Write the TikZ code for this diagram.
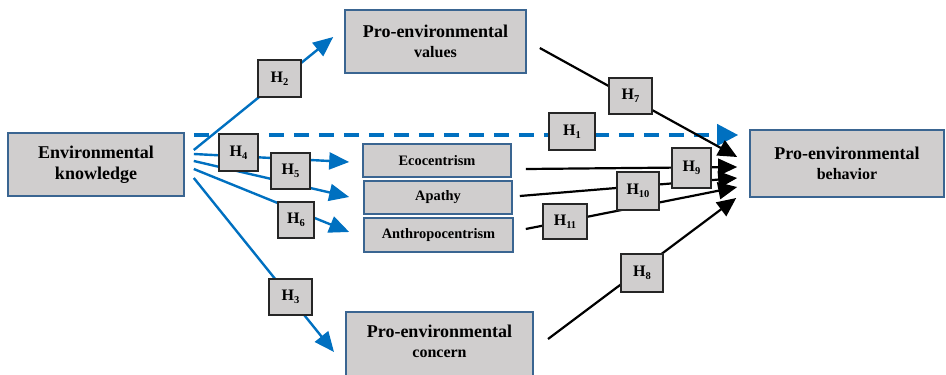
\documentclass[tikz,border=0pt]{standalone}
\usepackage{fontspec}
\setmainfont{Liberation Serif}
\usetikzlibrary{arrows.meta,calc}
\definecolor{lineblue}{HTML}{0070C0}
\definecolor{boxedge}{HTML}{3A6591}
\definecolor{boxfill}{HTML}{D0CECE}
\newcommand\hyp[1]{H\raisebox{-0.35ex}{\fontsize{10.5}{10.5}\selectfont #1}}
\newcommand\secline{\fontsize{16}{20}\selectfont}
\begin{document}
\begin{tikzpicture}[x=1pt,y=-1pt,
  mainbox/.style={draw=boxedge,fill=boxfill,line width=1.6pt,inner sep=0pt,align=center,
    font=\bfseries\fontsize{18}{21}\selectfont},
  midbox/.style={mainbox,font=\bfseries\fontsize{14.4}{16}\selectfont},
  hbox/.style={draw=black!85,fill=boxfill,line width=1.3pt,inner sep=0pt,
    font=\bfseries\fontsize{16}{16}\selectfont},
  bluearrow/.style={draw=lineblue,line width=2.4pt,-{Triangle[length=20pt,width=17pt]}},
  dasharrow/.style={draw=lineblue,line width=4pt,dash pattern=on 15pt off 10pt,
    -{Triangle[length=21pt,width=21pt]}},
  blackarrow/.style={draw=black,line width=2.2pt,-{Triangle[length=19pt,width=17pt]}},
]
\useasboundingbox (0,0) rectangle (946,375);

% main boxes
\node[mainbox,minimum width=176pt,minimum height=63pt] (ek) at (96,164.5) {Environmental\\knowledge};
\node[mainbox,minimum width=181pt,minimum height=63pt] (pev) at (435.5,41.5) {Pro-environmental\\[-1pt]{\secline values}};
\node[midbox,minimum width=148pt,minimum height=33pt] (eco) at (437,160.5) {Ecocentrism};
\node[midbox,minimum width=148pt,minimum height=33pt] (apa) at (438,197.5) {Apathy};
\node[midbox,minimum width=149pt,minimum height=34pt] (ant) at (438.5,235) {Anthropocentrism};
\node[mainbox,minimum width=194pt,minimum height=67pt] (peb) at (847,163.5) {Pro-environmental\\[-1pt]{\secline behavior}};
\path[draw=boxedge,fill=boxfill,line width=1.6pt] (346,312) rectangle (533,400);
\node[align=center,inner sep=0pt,font=\bfseries\fontsize{18}{21}\selectfont] (pec) at (439.5,341) {Pro-environmental\\[-1pt]{\secline concern}};

% coordinates
\coordinate (s1) at ($(ek.east)+(9,-29.5)$);
\coordinate (s2) at ($(ek.east)+(9,-14.5)$);
\coordinate (s4) at ($(ek.east)+(9,-10.5)$);
\coordinate (s5) at ($(ek.east)+(9,-3.5)$);
\coordinate (s6) at ($(ek.east)+(9,4.5)$);
\coordinate (s3) at ($(ek.east)+(9,13.5)$);
\coordinate (t1) at ($(peb.west)+(-11,-28.5)$);
\coordinate (t2) at ($(pev.west)+(-11,-4.5)$);
\coordinate (t4) at ($(eco.west)+(-13,1.5)$);
\coordinate (t5) at ($(apa.west)+(-14,-0.5)$);
\coordinate (t6) at ($(ant.west)+(-14,-3)$);
\coordinate (t3) at ($(pec.center)+(-105.5,11)$);
\coordinate (s7) at ($(pev.east)+(13,6.5)$);
\coordinate (s9) at ($(eco.east)+(14,8.5)$);
\coordinate (s10) at ($(apa.east)+(7,-1.5)$);
\coordinate (s11) at ($(ant.east)+(12,-6)$);
\coordinate (s8) at ($(pec.center)+(108.5,-2)$);
\coordinate (t7) at ($(peb.west)+(-12,-6.5)$);
\coordinate (t9) at ($(peb.west)+(-12,3.5)$);
\coordinate (t10) at ($(peb.west)+(-12,14.5)$);
\coordinate (t11) at ($(peb.west)+(-12,23.5)$);
\coordinate (t8) at ($(peb.west)+(-13,34.5)$);

% connectors
\draw[dasharrow] (s1) -- (t1);
\draw[bluearrow] (s2) -- (t2);
\draw[bluearrow] (s4) -- (t4);
\draw[bluearrow] (s5) -- (t5);
\draw[bluearrow] (s6) -- (t6);
\draw[bluearrow] (s3) -- (t3);
\draw[blackarrow] (s7) -- (t7);
\draw[blackarrow] (s9) -- (t9);
\draw[blackarrow] (s10) -- (t10);
\draw[blackarrow] (s11) -- (t11);
\draw[blackarrow] (s8) -- (t8);

% hypothesis labels
\node[hbox,minimum width=46pt,minimum height=37pt] (h1) at (572,131.5) {\hyp{1}};
\node[hbox,minimum width=43pt,minimum height=37pt] (h2) at (279.5,78.5) {\hyp{2}};
\node[hbox,minimum width=43pt,minimum height=36pt] (h3) at (290.5,297) {\hyp{3}};
\node[hbox,minimum width=39pt,minimum height=37pt] (h4) at (238.5,152.5) {\hyp{4}};
\node[hbox,minimum width=39pt,minimum height=36pt] (h5) at (290.5,171) {\hyp{5}};
\node[hbox,minimum width=36pt,minimum height=36pt] (h6) at (296,220) {\hyp{6}};
\node[hbox,minimum width=43pt,minimum height=36pt] (h7) at (630.5,96) {\hyp{7}};
\node[hbox,minimum width=42pt,minimum height=38pt] (h8) at (642,273) {\hyp{8}};
\node[hbox,minimum width=39pt,minimum height=40pt] (h9) at (691.5,168) {\hyp{9}};
\node[hbox,minimum width=42pt,minimum height=38pt] (h10) at (638,191) {\hyp{10}};
\node[hbox,minimum width=44pt,minimum height=35pt] (h11) at (565,221.5) {\hyp{11}};
\end{tikzpicture}
\end{document}
